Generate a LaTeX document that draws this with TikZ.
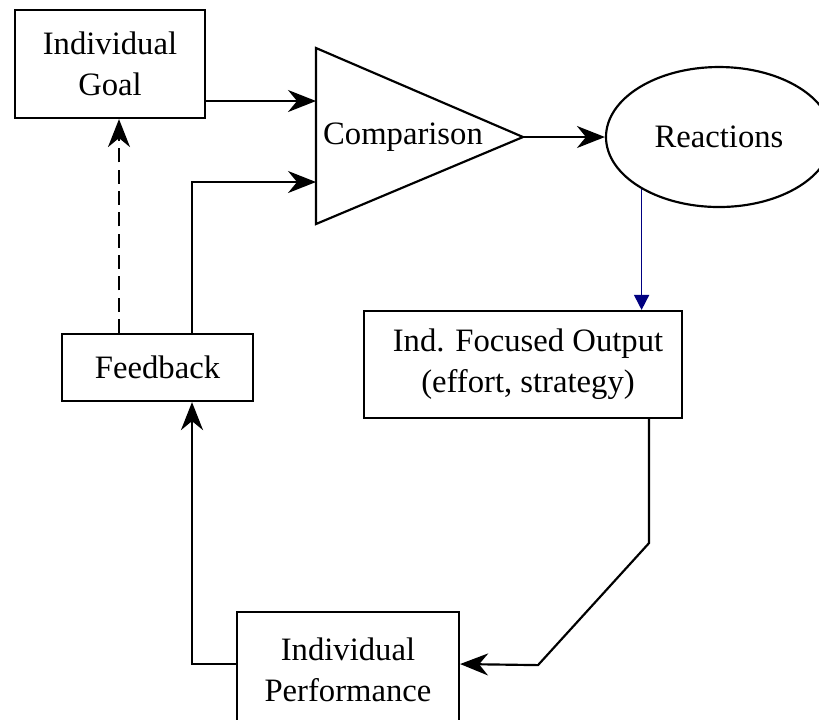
\documentclass[tikz,border=0pt]{standalone}
\usepackage{fontspec}
\setmainfont{Liberation Serif}
\usepackage{xcolor}
\usepackage{tikz}
\usetikzlibrary{arrows.meta,shapes.geometric}
\definecolor{linkblue}{RGB}{0,0,128}
\tikzset{
	blockbox/.style={draw,line width=0.65pt,align=center,inner sep=0pt},
	flowline/.style={line width=0.65pt,-{Stealth[length=8.4pt,width=6.6pt,inset=2.7pt]}}
}
\begin{document}
\begin{tikzpicture}[line cap=butt,line join=miter,x=0.3pt,y=-0.3pt,font=\fontsize{9.8pt}{12.4pt}\selectfont]
		\useasboundingbox (0,0) rectangle (819,719);
		\clip (0,0) rectangle (819,719);
		\node[blockbox,minimum width=57pt,minimum height=32.4pt] (goal) at (110,64) {Individual\\Goal};
		\node[blockbox,minimum width=57.3pt,minimum height=20.1pt] (feedback) at (157.5,367.5) {Feedback};
		\node[blockbox,minimum width=95.4pt,minimum height=32.1pt] (focus) at (523,364.5) {\hspace{3pt}Ind. Focused Output\\\hspace{3pt}(effort, strategy)};
		\node[blockbox,minimum width=66.6pt,minimum height=34.8pt] (perf) at (348,670) {Individual\\Performance};
		\node[draw,ellipse,line width=0.65pt,inner sep=0pt,minimum width=67.8pt,minimum height=42pt] (react) at (719,137) {Reactions};
		\coordinate (cmptop) at (316,48);
		\coordinate (cmpbot) at (316,224);
		\coordinate (cmptip) at (523,137);
		\coordinate (cmpin1) at (316,101);
		\coordinate (cmpin2) at (316,182);
		\draw [line width=0.65pt] (cmptop)-- (cmptip)-- (cmpbot)-- cycle;
		\node (cmp) at (403,137) {Comparison};
		\coordinate (fbleft) at ([xshift=-11.55pt]feedback.north);
		\coordinate (fbright) at ([xshift=10.35pt]feedback.north);
		\draw [flowline] (goal.east |- cmpin1)-- (cmpin1);
		\draw [flowline] (fbright) |- (cmpin2);
		\draw [flowline,dashed,dash pattern=on 4.2pt off 2.2pt] (fbleft)-- (fbleft |- goal.south);
		\draw [flowline] (cmptip)-- (react.west);
		\draw [line width=0.5pt,color=linkblue,-{Triangle[length=4.5pt,width=4.5pt]}] (react.214.7)-- (react.214.7 |- focus.north);
		\draw [flowline] ([xshift=37.8pt]focus.south)-- ++(0,124)-- ++(-111,122)-- ([yshift=1.8pt]perf.east);
		\draw [flowline] ([yshift=1.8pt]perf.west) -| (fbright |- feedback.south);
	\end{tikzpicture}
\end{document}
